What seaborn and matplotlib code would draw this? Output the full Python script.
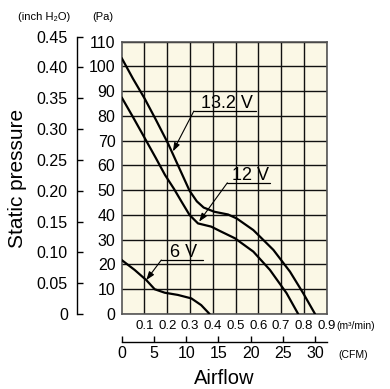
import numpy as np
import pandas as pd
import seaborn as sns
import matplotlib.pyplot as plt

# curves: airflow (m3/min) vs static pressure (Pa)
flow_132 = [0, 0.05, 0.101, 0.15, 0.203, 0.255, 0.298, 0.33, 0.36, 0.407, 0.467, 0.505, 0.578, 0.666, 0.739, 0.797, 0.849]
pres_132 = [103.4, 95.0, 87.0, 78.5, 69.0, 58.5, 49.8, 45.5, 43.0, 41.3, 40.2, 38.6, 33.9, 25.9, 17.1, 8.4, 0]

flow_12 = [0, 0.05, 0.101, 0.15, 0.19, 0.23, 0.262, 0.298, 0.335, 0.393, 0.432, 0.497, 0.578, 0.651, 0.724, 0.775]
pres_12 = [87.5, 79.5, 71.1, 63.0, 56.2, 50.5, 45.5, 40.0, 36.6, 35.3, 33.5, 30.6, 25.2, 17.8, 8.4, 0]

flow_6 = [0, 0.057, 0.108, 0.145, 0.189, 0.247, 0.306, 0.349, 0.386]
pres_6 = [21.8, 17.8, 13.7, 10.0, 8.6, 7.7, 6.3, 3.6, 0]

voltages = ["13.2 V", "12 V", "6 V"]
# label underline (x0, x1, y) and arrow tip on the curve
label_x0 = [0.317, 0.464, 0.174]
label_x1 = [0.588, 0.651, 0.357]
label_y = [82.0, 53.0, 21.8]
tip_x = [0.225, 0.340, 0.108]
tip_y = [65.7, 37.3, 13.7]

pa_ticks = list(range(0, 111, 10))
inch_ticks = [0, 0.05, 0.10, 0.15, 0.20, 0.25, 0.30, 0.35, 0.40, 0.45]
m3_ticks = [0.1, 0.2, 0.3, 0.4, 0.5, 0.6, 0.7, 0.8, 0.9]
cfm_ticks = [0, 5, 10, 15, 20, 25, 30]

M3_PER_CFM = 0.0283168

df = pd.concat([
    pd.DataFrame({"flow": flow_132, "pressure": pres_132, "voltage": voltages[0]}),
    pd.DataFrame({"flow": flow_12, "pressure": pres_12, "voltage": voltages[1]}),
    pd.DataFrame({"flow": flow_6, "pressure": pres_6, "voltage": voltages[2]}),
])

sns.set_style("white")
plt.rcParams['font.family'] = ['Liberation Sans', 'DejaVu Sans']
plt.rcParams['text.color'] = 'black'
plt.rcParams['xtick.color'] = 'black'
plt.rcParams['ytick.color'] = 'black'
plt.rcParams['xtick.labelcolor'] = 'black'
plt.rcParams['ytick.labelcolor'] = 'black'

fig = plt.figure(figsize=(3.9, 3.89), dpi=100)
fig.patch.set_facecolor("white")

# main plot box
ax = fig.add_axes([0.312, 0.1928, 0.5256, 0.700])
ax.set_facecolor("#FBF8E6")
sns.lineplot(data=df, x="flow", y="pressure", hue="voltage", palette=["black"] * 3,
             sort=False, estimator=None, legend=False, linewidth=1.6, ax=ax, zorder=3)
ax.set_xlim(0, 0.9)
ax.set_ylim(0, 110)
ax.set_xticks(m3_ticks)
ax.set_xticklabels([f"{v:.1f}" for v in m3_ticks], fontsize=9.5)
ax.set_yticks(pa_ticks)
ax.set_yticklabels([str(v) for v in pa_ticks], fontsize=11.5)
ax.tick_params(axis='x', length=0, pad=4)
ax.tick_params(axis='y', length=0, pad=4.5)
ax.grid(True, color="#111111", linewidth=1.0)
ax.set_axisbelow(True)
ax.set_xlabel("")
ax.set_ylabel("")
for s in ax.spines.values():
    s.set_color("#555555")
    s.set_linewidth(1.2)

# voltage labels with underline and leader arrow
for i, lab in enumerate(voltages):
    ax.plot([label_x0[i], label_x1[i]], [label_y[i], label_y[i]], color="black", lw=0.9, zorder=4)
    ax.text((label_x0[i] + label_x1[i]) / 2 + 0.008, label_y[i] - 0.3, lab,
            ha="center", va="bottom", fontsize=13, color="black", zorder=4)
    ax.annotate("", xy=(tip_x[i], tip_y[i]), xytext=(label_x0[i], label_y[i]),
                arrowprops=dict(arrowstyle="-|>,head_length=0.5,head_width=0.18",
                                color="black", lw=0.8, shrinkA=0, shrinkB=0), zorder=4)

# inch H2O scale
ax_in = fig.add_axes([0.1987, 0.1928, 0.001, 0.7133])
ax_in.set_facecolor("none")
ax_in.set_ylim(0, 0.45)
ax_in.set_yticks(inch_ticks)
ax_in.set_yticklabels(["0" if v == 0 else f"{v:.2f}" for v in inch_ticks], fontsize=11.5)
ax_in.set_xticks([])
ax_in.tick_params(axis='y', direction='in', length=4, width=1, pad=7, left=True)
for k in ["top", "right", "bottom"]:
    ax_in.spines[k].set_visible(False)
ax_in.spines["left"].set_color("black")
ax_in.spines["left"].set_linewidth(1)

# CFM scale
ax_cfm = fig.add_axes([0.312, 0.1208, 0.5256, 0.001])
ax_cfm.set_facecolor("none")
ax_cfm.set_xlim(0, 0.9 / M3_PER_CFM)
ax_cfm.set_xticks(cfm_ticks)
ax_cfm.set_xticklabels([str(v) for v in cfm_ticks], fontsize=11.5)
ax_cfm.set_yticks([])
ax_cfm.tick_params(axis='x', direction='in', length=4, width=1, pad=3, bottom=True)
for k in ["top", "right", "left"]:
    ax_cfm.spines[k].set_visible(False)
ax_cfm.spines["bottom"].set_color("black")
ax_cfm.spines["bottom"].set_linewidth(1)

# units and titles
fig.text(18 / 390, 1 - 17.5 / 389, "(inch H\u2082O)", fontsize=8, ha="left", va="center")
fig.text(92 / 390, 1 - 17.5 / 389, "(Pa)", fontsize=8, ha="left", va="center")
fig.text(336 / 390, 1 - 326 / 389, "(m\u00b3/min)", fontsize=7.5, ha="left", va="center")
fig.text(338 / 390, 1 - 355 / 389, "(CFM)", fontsize=7.5, ha="left", va="center")
fig.text(18 / 390, 1 - 178 / 389, "Static pressure", fontsize=15, rotation=90, ha="center", va="center")
fig.text(224 / 390, 1.5 / 389, "Airflow", fontsize=14.5, ha="center", va="bottom")

fig.savefig("out.png", dpi=100)
